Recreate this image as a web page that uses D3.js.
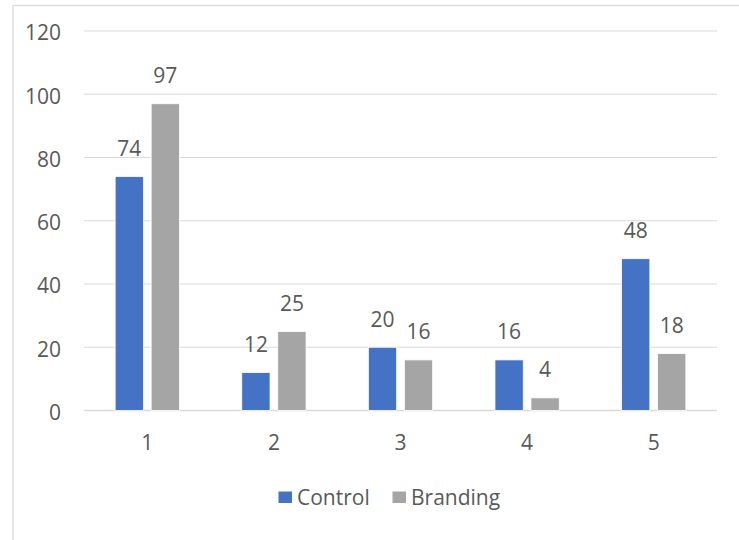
<!DOCTYPE html>
<html>
<head>
<meta charset="utf-8">
<script src="https://cdn.jsdelivr.net/npm/d3@7"></script>
<style>
  html, body { margin: 0; padding: 0; background: #fff; }
  svg { display: block; }
  text { font-family: "Open Sans", "Liberation Sans", sans-serif; fill: #595959; }
</style>
</head>
<body>
<svg id="chart" width="739" height="540"></svg>
<script>
const categories = ["1", "2", "3", "4", "5"];
const seriesNames = ["Control", "Branding"];
const controlValues = [74, 12, 20, 16, 48];
const brandingValues = [97, 25, 16, 4, 18];
const yTicks = [0, 20, 40, 60, 80, 100, 120];
const colors = ["#4472C4", "#A5A5A5"];

const svg = d3.select("#chart");
const W = 739, H = 540;
const margin = { left: 84, right: 22, top: 31, bottom: 129.5 };
const x0 = margin.left, x1 = W - margin.right;
const yTop = margin.top, yBottom = H - margin.bottom;

// chart frame
svg.append("rect")
  .attr("x", 13).attr("y", 5.5)
  .attr("width", 760).attr("height", 560)
  .attr("fill", "#fff").attr("stroke", "#D9D9D9").attr("stroke-width", 1.3);

const x = d3.scaleBand().domain(categories).range([x0, x1]).paddingInner(0).paddingOuter(0);
const y = d3.scaleLinear().domain([0, 120]).range([yBottom, yTop]);

// gridlines
svg.append("g").selectAll("line").data(yTicks).join("line")
  .attr("x1", x0).attr("x2", x1)
  .attr("y1", d => y(d)).attr("y2", d => y(d))
  .attr("stroke", "#D9D9D9").attr("stroke-width", d => d === 0 ? 1.5 : 1.2);

// y axis labels
const yAxis = d3.axisLeft(y).tickValues(yTicks).tickSize(0).tickPadding(0);
const gy = svg.append("g").attr("transform", `translate(61,1.5)`).call(yAxis);
gy.select(".domain").remove();
gy.selectAll("text").attr("font-size", 21).attr("fill", "#595959")
  .style("font-family", "'Open Sans', sans-serif").attr("dy", "0.35em");

// x axis labels
const xAxis = d3.axisBottom(x).tickSize(0).tickPadding(0);
const gx = svg.append("g").attr("transform", `translate(0,${yBottom + 32})`).call(xAxis);
gx.select(".domain").remove();
gx.selectAll("text").attr("font-size", 21).attr("fill", "#595959")
  .style("font-family", "'Open Sans', sans-serif").attr("dy", "0.35em");

// bars
const barW = 28.3, gap = 7.7;
const inner = d3.scaleOrdinal().domain(seriesNames).range([-(gap / 2 + barW), gap / 2]);
const data = categories.map((c, i) => ({ cat: c, vals: [controlValues[i], brandingValues[i]] }));

const groups = svg.append("g").selectAll("g").data(data).join("g")
  .attr("transform", d => `translate(${x(d.cat) + x.bandwidth() / 2},0)`);

groups.selectAll("rect").data(d => d.vals.map((v, j) => ({ s: seriesNames[j], v, j }))).join("rect")
  .attr("x", d => inner(d.s))
  .attr("width", barW)
  .attr("y", d => y(d.v))
  .attr("height", d => y(0) - y(d.v))
  .attr("fill", d => colors[d.j])
  .attr("stroke", "#fff").attr("stroke-width", 0.8);

groups.selectAll("text.lbl").data(d => d.vals.map((v, j) => ({ s: seriesNames[j], v, j }))).join("text")
  .attr("class", "lbl")
  .attr("x", d => inner(d.s) + barW / 2)
  .attr("y", d => y(d.v) - 20.5)
  .attr("text-anchor", "middle")
  .attr("font-size", 21)
  .attr("fill", "#404040")
  .text(d => d.v);

// legend
const legendItems = [
  { name: seriesNames[0], color: colors[0], x: 278.5, tx: 297 },
  { name: seriesNames[1], color: colors[1], x: 392.5, tx: 411 }
];
const lg = svg.append("g");
legendItems.forEach(it => {
  lg.append("rect").attr("x", it.x).attr("y", 491.5).attr("width", 13.5).attr("height", 11.5).attr("fill", it.color);
  lg.append("text").attr("x", it.tx).attr("y", 497.5).attr("dy", "0.35em")
    .attr("font-size", 21).attr("fill", "#595959").text(it.name);
});
</script>
</body>
</html>
